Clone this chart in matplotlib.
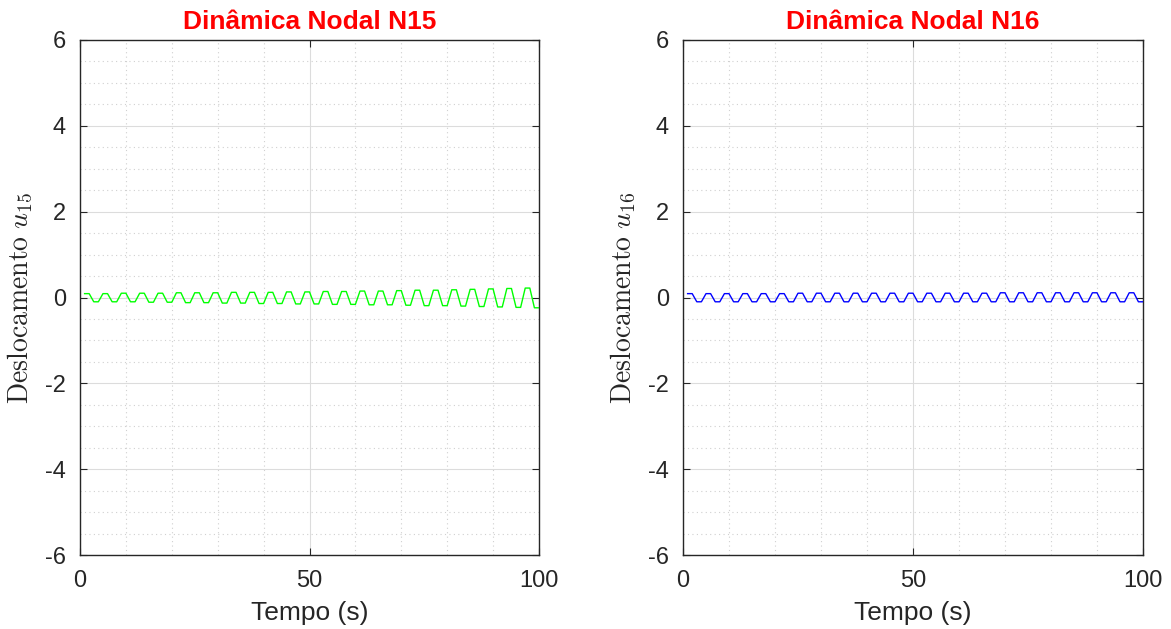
import numpy as np
import matplotlib
matplotlib.use("Agg")
import matplotlib.pyplot as plt
from matplotlib.ticker import MultipleLocator

plt.rcParams['font.family'] = ['Liberation Sans', 'DejaVu Sans']
plt.rcParams['mathtext.fontset'] = 'cm'
plt.rcParams['axes.unicode_minus'] = False

# Time samples (s)
tempo = np.arange(1, 101)

# Nodal displacement of node 15
u15 = [
    0.09, 0.09, -0.10, -0.10,
    0.09, 0.09, -0.10, -0.10,
    0.10, 0.10, -0.10, -0.10,
    0.10, 0.10, -0.11, -0.11,
    0.10, 0.10, -0.11, -0.11,
    0.11, 0.11, -0.12, -0.12,
    0.11, 0.11, -0.12, -0.12,
    0.11, 0.11, -0.13, -0.13,
    0.12, 0.12, -0.13, -0.13,
    0.12, 0.12, -0.14, -0.14,
    0.12, 0.12, -0.14, -0.14,
    0.13, 0.13, -0.15, -0.15,
    0.13, 0.13, -0.15, -0.15,
    0.14, 0.14, -0.16, -0.16,
    0.14, 0.14, -0.16, -0.16,
    0.15, 0.15, -0.17, -0.17,
    0.15, 0.15, -0.17, -0.17,
    0.16, 0.16, -0.18, -0.18,
    0.17, 0.17, -0.19, -0.19,
    0.17, 0.17, -0.19, -0.19,
    0.18, 0.18, -0.20, -0.20,
    0.19, 0.19, -0.21, -0.21,
    0.20, 0.20, -0.22, -0.22,
    0.21, 0.21, -0.23, -0.23,
    0.22, 0.22, -0.24, -0.24,
]

# Nodal displacement of node 16
u16 = [
    0.09, 0.09, -0.10, -0.10,
    0.09, 0.09, -0.10, -0.10,
    0.09, 0.09, -0.10, -0.10,
    0.09, 0.09, -0.10, -0.10,
    0.09, 0.09, -0.10, -0.10,
    0.09, 0.09, -0.10, -0.10,
    0.10, 0.10, -0.10, -0.10,
    0.10, 0.10, -0.10, -0.10,
    0.10, 0.10, -0.10, -0.10,
    0.10, 0.10, -0.10, -0.10,
    0.10, 0.10, -0.10, -0.10,
    0.10, 0.10, -0.10, -0.10,
    0.10, 0.10, -0.10, -0.10,
    0.10, 0.10, -0.10, -0.10,
    0.10, 0.10, -0.10, -0.10,
    0.10, 0.10, -0.10, -0.10,
    0.10, 0.10, -0.10, -0.10,
    0.11, 0.11, -0.10, -0.10,
    0.11, 0.11, -0.10, -0.10,
    0.11, 0.11, -0.10, -0.10,
    0.11, 0.11, -0.10, -0.10,
    0.11, 0.11, -0.10, -0.10,
    0.11, 0.11, -0.10, -0.10,
    0.11, 0.11, -0.10, -0.10,
    0.11, 0.11, -0.10, -0.10,
]

titulos = ['Dinâmica Nodal N15', 'Dinâmica Nodal N16']
rotulos_y = [r'$\mathrm{Deslocamento}\ u_{15}$', r'$\mathrm{Deslocamento}\ u_{16}$']
series = [u15, u16]
cores = ['#00ff00', '#0000ff']
x_ticks = [0, 50, 100]
y_ticks = [-6, -4, -2, 0, 2, 4, 6]

W, H = 1171, 629
fig = plt.figure(figsize=(W / 100, H / 100), dpi=100)
eixos = [
    fig.add_axes([80 / W, 1 - 555 / H, 459 / W, 515 / H]),
    fig.add_axes([683 / W, 1 - 555 / H, 460 / W, 515 / H]),
]

txt = '#262626'
for ax, titulo, rot, u, cor in zip(eixos, titulos, rotulos_y, series, cores):
    ax.plot(tempo, u, color=cor, lw=1.0, zorder=3)
    ax.set_xlim(0, 100)
    ax.set_ylim(-6, 6)
    ax.set_xticks(x_ticks)
    ax.set_yticks(y_ticks)
    ax.xaxis.set_minor_locator(MultipleLocator(10))
    ax.yaxis.set_minor_locator(MultipleLocator(0.5))
    ax.grid(which='major', color='#dcdcdc', lw=0.8, ls='-', zorder=0)
    ax.grid(which='minor', color='#d0d0d0', lw=0.8, ls=(0, (1, 3)), zorder=0)
    ax.set_axisbelow(True)
    ax.tick_params(which='major', direction='in', length=5, width=0.8,
                   top=True, right=True, colors=txt, labelsize=17)
    ax.tick_params(axis='x', which='major', pad=11)
    ax.tick_params(axis='y', which='major', pad=10)
    ax.tick_params(which='minor', length=0, top=True, right=True)
    for s in ax.spines.values():
        s.set_color(txt)
        s.set_linewidth(1.0)
    ax.set_title(titulo, color='#ff0000', fontsize=19, fontweight='bold', pad=8)
    ax.set_xlabel('Tempo (s)', fontsize=19, color=txt, labelpad=6)
    ax.set_ylabel(rot, fontsize=20, color=txt)
    ax.yaxis.set_label_coords(-0.098, 0.5)

fig.savefig('out.png', dpi=100)
